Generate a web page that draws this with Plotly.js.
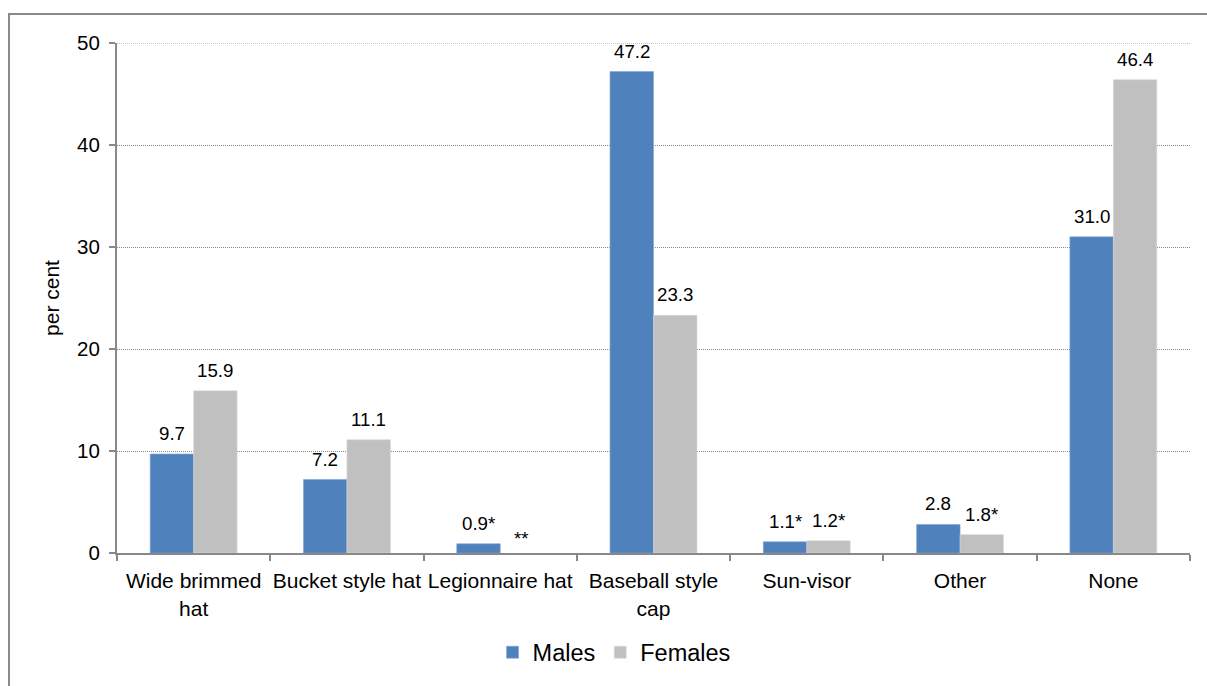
<!DOCTYPE html>
<html>
<head>
<meta charset="utf-8">
<script src="https://cdn.plot.ly/plotly-3.0.1.min.js"></script>
<style>
  html, body { margin: 0; padding: 0; overflow: hidden; background: #fff; }
  #chart { width: 1207px; height: 686px; }
  #frame { position: absolute; left: 8px; top: 13px; width: 1400px; height: 900px;
           border-left: 2px solid #8a8a8a; border-top: 2px solid #8a8a8a; pointer-events: none; }
</style>
</head>
<body>
<div id="chart"></div>
<div id="frame"></div>
<script>
const categories = ["Wide brimmed<br>hat", "Bucket style hat", "Legionnaire hat", "Baseball style<br>cap", "Sun-visor", "Other", "None"];
const males = [9.7, 7.2, 0.9, 47.2, 1.1, 2.8, 31.0];
const females = [15.9, 11.1, null, 23.3, 1.2, 1.8, 46.4];
const malesLabels = ["9.7", "7.2", "0.9*", "47.2", "1.1*", "2.8", "31.0"];
const femalesLabels = ["15.9", "11.1", "**", "23.3", "1.2*", "1.8*", "46.4"];
const yTicks = [0, 10, 20, 30, 40, 50];

const FONT = "Liberation Sans, Arial, sans-serif";
const BAR_GAP = 0.433;
const half = (1 - BAR_GAP) / 4; // half of one bar width in category units

const traces = [
  { type: "bar", name: "Males", x: categories, y: males,
    marker: { color: "#4F81BD", line: { color: "#7FA3D1", width: 0.6 } }, hoverinfo: "y" },
  { type: "bar", name: "Females", x: categories, y: females,
    marker: { color: "#C0C0C0", line: { color: "#D6D6D6", width: 0.6 } }, hoverinfo: "y" }
];

const labelFont = { family: FONT, size: 18.7, color: "#000" };
const annotations = [];
categories.forEach((c, i) => {
  annotations.push({ x: i - half, y: males[i], xref: "x", yref: "y", text: malesLabels[i],
    showarrow: false, yanchor: "bottom", xanchor: "center", yshift: 8, font: labelFont });
  const fv = females[i];
  annotations.push({ x: i + half, y: fv === null ? 0 : fv, xref: "x", yref: "y", text: femalesLabels[i],
    showarrow: false, yanchor: "bottom", xanchor: "center", yshift: fv === null ? 2 : 8, font: labelFont });
});

const shapes = [{
  type: "line", xref: "paper", yref: "y", x0: 0, x1: 1,
  y0: yTicks[yTicks.length - 1], y1: yTicks[yTicks.length - 1],
  line: { color: "#8a8a8a", width: 1, dash: "1px,1px" }, layer: "below"
}];

const layout = {
  width: 1207, height: 686,
  margin: { l: 117, r: 17, t: 43, b: 129, pad: 0 },
  paper_bgcolor: "#fff", plot_bgcolor: "#fff",
  barmode: "group", bargap: BAR_GAP, bargroupgap: 0,
  font: { family: FONT, size: 21, color: "#000" },
  showlegend: true,
  legend: { orientation: "h", x: 0.350, xanchor: "left", y: -0.195, yanchor: "middle",
            font: { family: FONT, size: 23.5, color: "#000" }, itemwidth: 30, tracegroupgap: 0 },
  xaxis: {
    type: "category", tickson: "boundaries", ticks: "outside", ticklen: 6, tickcolor: "#888",
    tickwidth: 2, showline: true, linecolor: "#888", linewidth: 2, showgrid: false,
    ticklabelstandoff: 8, tickangle: 0, automargin: false,
    tickfont: { family: FONT, size: 21, color: "#000" }, fixedrange: true
  },
  yaxis: {
    range: [0, 50], tickvals: yTicks, ticktext: yTicks.map(String), ticks: "outside", ticklen: 6,
    tickcolor: "#888", tickwidth: 2, showline: true, linecolor: "#888", linewidth: 2,
    showgrid: true, gridcolor: "#8a8a8a", gridwidth: 1, griddash: "1px,1px", zeroline: false,
    ticklabelstandoff: 5, automargin: false,
    tickfont: { family: FONT, size: 20.5, color: "#000" },
    title: { text: "per cent", font: { family: FONT, size: 21, color: "#000" }, standoff: 12 },
    fixedrange: true
  },
  shapes: shapes,
  annotations: annotations
};

Plotly.newPlot("chart", traces, layout, { displayModeBar: false, staticPlot: true });
</script>
</body>
</html>
